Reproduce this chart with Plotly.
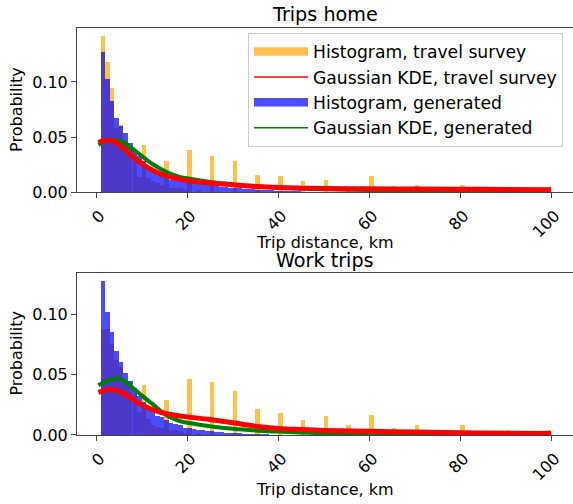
import plotly.graph_objects as go

# ---------------- data ----------------
# histogram bins are 1 km wide, bin k covers [k, k+1)
# Trips home — travel survey histogram (non-zero bins)
home_survey_km = [1, 2, 3, 4, 5, 6, 7, 8, 9, 10, 11, 12, 13, 14, 15, 16, 17, 18, 19, 20,
                  22, 25, 30, 35, 40, 45, 50, 55, 60, 65, 70, 75, 80, 85, 90, 99]
home_survey_p = [0.1414, 0.1185, 0.0948, 0.058, 0.0612, 0.045, 0.040, 0.034, 0.014, 0.043,
                 0.013, 0.0097, 0.008, 0.006, 0.0285, 0.004, 0.004, 0.004, 0.002, 0.0385,
                 0.002, 0.033, 0.0285, 0.0157, 0.0148, 0.0103, 0.0112, 0.0048, 0.0148, 0.0057,
                 0.0066, 0.002, 0.0066, 0.0015, 0.004, 0.0048]

# Trips home — generated histogram
home_gen_km = list(range(1, 46))
home_gen_p = [0.1275, 0.103, 0.0824, 0.0675, 0.0597, 0.0533, 0.045, 0.037, 0.033, 0.028,
              0.023, 0.020, 0.0187, 0.0166, 0.014, 0.011, 0.012, 0.0105, 0.0095, 0.009,
              0.008, 0.0075, 0.007, 0.0065, 0.006, 0.0055, 0.005, 0.0045, 0.004, 0.0038,
              0.0035, 0.003, 0.0028, 0.0025, 0.0022, 0.002, 0.0018, 0.0015, 0.0013, 0.0012,
              0.001, 0.0008, 0.0007, 0.0006, 0.0005]

# Work trips — travel survey histogram (non-zero bins)
work_survey_km = [1, 2, 3, 4, 5, 6, 7, 8, 9, 10, 11, 12, 13, 14, 15, 16, 17, 18, 19, 20,
                  22, 25, 30, 35, 40, 45, 50, 55, 60, 65, 70, 75, 80, 85, 90, 99]
work_survey_p = [0.088, 0.088, 0.0753, 0.062, 0.0566, 0.045, 0.040, 0.035, 0.019, 0.041,
                 0.0136, 0.0079, 0.007, 0.006, 0.0293, 0.004, 0.004, 0.003, 0.002, 0.0467,
                 0.002, 0.0442, 0.0368, 0.0211, 0.0186, 0.012, 0.0161, 0.0079, 0.0169, 0.0054,
                 0.0079, 0.002, 0.0079, 0.003, 0.0045, 0.0045]

# Work trips — generated histogram
work_gen_km = list(range(1, 39))
work_gen_p = [0.1277, 0.1015, 0.0855, 0.0698, 0.0607, 0.0517, 0.045, 0.039, 0.032, 0.027,
              0.022, 0.0197, 0.0155, 0.0153, 0.012, 0.0103, 0.009, 0.008, 0.0062, 0.006,
              0.005, 0.0045, 0.004, 0.0035, 0.003, 0.0027, 0.0023, 0.002, 0.0018, 0.0015,
              0.0013, 0.0011, 0.001, 0.0008, 0.0007, 0.0006, 0.0005, 0.0004]

# Gaussian KDE curves
kde_km = [0.5, 1, 2, 3, 4, 5, 6, 7, 8, 9, 10, 12, 14, 16, 18, 20, 25, 30, 35, 40, 45, 50,
          60, 70, 80, 90, 100]
home_kde_survey = [0.0450, 0.0458, 0.0468, 0.0470, 0.0460, 0.0432, 0.0400, 0.0362, 0.0325,
                   0.0290, 0.0260, 0.0208, 0.0168, 0.0140, 0.0120, 0.0106, 0.0082, 0.0066,
                   0.0051, 0.0041, 0.0036, 0.0033, 0.0030, 0.0028, 0.0026, 0.0024, 0.0022]
home_kde_gen = [0.0430, 0.0440, 0.0458, 0.0470, 0.0475, 0.0470, 0.0455, 0.0425, 0.0395,
                0.0362, 0.0330, 0.0265, 0.0215, 0.0172, 0.0142, 0.0125, 0.0092, 0.0070,
                0.0053, 0.0040, 0.0032, 0.0026, 0.0020, 0.0017, 0.0014, 0.0012, 0.0010]
work_kde_survey = [0.0352, 0.0358, 0.0370, 0.0376, 0.0374, 0.0362, 0.0345, 0.0322, 0.0298,
                   0.0272, 0.0250, 0.0215, 0.0190, 0.0172, 0.0160, 0.0150, 0.0128, 0.0101,
                   0.0073, 0.0054, 0.0045, 0.0038, 0.0030, 0.0024, 0.0018, 0.0015, 0.0012]
work_kde_gen = [0.0412, 0.0422, 0.0440, 0.0457, 0.0466, 0.0465, 0.0452, 0.0425, 0.0392,
                0.0360, 0.0328, 0.0268, 0.0205, 0.0150, 0.0120, 0.0101, 0.0073, 0.0051,
                0.0037, 0.0028, 0.0020, 0.0015, 0.0010, 0.0008, 0.0006, 0.0005, 0.0005]

titles = ["Trips home", "Work trips"]
x_label = "Trip distance, km"
y_label = "Probability"
x_ticks = [0, 20, 40, 60, 80, 100]
y_ticks = [0.0, 0.05, 0.10]
y_tick_text = ["0.00", "0.05", "0.10"]
legend_names = ["Histogram, travel survey", "Gaussian KDE, travel survey",
                "Histogram, generated", "Gaussian KDE, generated"]

# ---------------- styles ----------------
ORANGE = "rgba(255,165,0,0.7)"
BLUE = "rgba(0,0,255,0.7)"
ORANGE_SOLID = "rgb(255,192,77)"
BLUE_SOLID = "rgb(77,77,255)"
RED = "rgb(255,0,0)"
GREEN = "rgb(0,128,0)"
FONT = "DejaVu Sans"
AXCOL = "#444444"

fig = go.Figure()

panels = [
    (home_survey_km, home_survey_p, home_gen_km, home_gen_p, home_kde_survey, home_kde_gen, "x", "y"),
    (work_survey_km, work_survey_p, work_gen_km, work_gen_p, work_kde_survey, work_kde_gen, "x2", "y2"),
]

for s_km, s_p, g_km, g_p, k_s, k_g, xa, ya in panels:
    fig.add_trace(go.Bar(x=[k + 0.5 for k in s_km], y=s_p, width=0.99,
                         marker=dict(color=ORANGE, line=dict(width=0)),
                         showlegend=False, xaxis=xa, yaxis=ya, hoverinfo="skip"))
    fig.add_trace(go.Bar(x=[k + 0.5 for k in g_km], y=g_p, width=1.0,
                         marker=dict(color=BLUE, line=dict(width=0)),
                         showlegend=False, xaxis=xa, yaxis=ya, hoverinfo="skip"))
    fig.add_trace(go.Scatter(x=kde_km, y=k_g, mode="lines",
                             line=dict(color=GREEN, width=4, shape="spline"),
                             showlegend=False, xaxis=xa, yaxis=ya, hoverinfo="skip"))
    fig.add_trace(go.Scatter(x=kde_km, y=k_s, mode="lines",
                             line=dict(color=RED, width=5, shape="spline"),
                             showlegend=False, xaxis=xa, yaxis=ya, hoverinfo="skip"))

# legend-only entries
leg_styles = [
    dict(line=dict(color=ORANGE_SOLID, width=5), fill="toself", fillcolor=ORANGE_SOLID),
    dict(line=dict(color=RED, width=1.5)),
    dict(line=dict(color=BLUE_SOLID, width=5), fill="toself", fillcolor=BLUE_SOLID),
    dict(line=dict(color=GREEN, width=1.5)),
]
for i, (name, st) in enumerate(zip(legend_names, leg_styles)):
    fig.add_trace(go.Scatter(x=[None], y=[None], mode="lines", name=name,
                             legendgroup=f"g{i}", showlegend=True, xaxis="x", yaxis="y", **st))

W, H = 573, 504
L, R, T, B = 77, 0, 28, 68.5
plot_h = H - T - B
plot_w = W - L - R
top_dom = [(435.5 - 192.3) / plot_h, 1.0]
bot_dom = [0.0, (435.5 - 273.3) / plot_h]

axis_common = dict(showline=True, linecolor=AXCOL, linewidth=1, mirror=True,
                   ticks="outside", ticklen=5, tickwidth=1, tickcolor=AXCOL,
                   showgrid=False, zeroline=False,
                   tickfont=dict(family=FONT, size=16, color="black"))

xcommon = dict(axis_common, range=[-4.2, 104.8], tickvals=x_ticks,
               ticktext=[str(v) for v in x_ticks], tickangle=-45,
               ticklabelshift=4, ticklabelstandoff=2)
fig.update_layout(
    width=W, height=H,
    margin=dict(l=L, r=R, t=T, b=B, pad=0),
    paper_bgcolor="white", plot_bgcolor="white",
    barmode="overlay", bargap=0,
    font=dict(family=FONT, size=16, color="black"),
    xaxis=dict(xcommon, domain=[0, 1], anchor="y"),
    yaxis=dict(axis_common, domain=top_dom, range=[0, 0.149], tickvals=y_ticks,
               ticktext=y_tick_text, anchor="x"),
    xaxis2=dict(xcommon, domain=[0, 1], anchor="y2"),
    yaxis2=dict(axis_common, domain=bot_dom, range=[0, 0.134], tickvals=y_ticks,
                ticktext=y_tick_text, anchor="x2"),
    legend=dict(x=(248 - L) / plot_w, y=(435.5 - 33) / plot_h, xanchor="left", yanchor="top",
                bgcolor="rgba(255,255,255,0.8)", bordercolor="#cccccc", borderwidth=1,
                font=dict(family=FONT, size=17.2, color="black"),
                itemwidth=54, tracegroupgap=4, traceorder="normal"),
    showlegend=True,
)

ann = []
for title, yc_px in zip(titles, [14, 261]):
    ann.append(dict(text=title, x=0.5, y=(435.5 - yc_px) / plot_h, xref="paper", yref="paper",
                    xanchor="center", yanchor="middle", showarrow=False,
                    font=dict(family=FONT, size=19.2, color="black")))
for yc_px in [243, 490]:
    ann.append(dict(text=x_label, x=0.5, y=(435.5 - yc_px) / plot_h, xref="paper", yref="paper",
                    xanchor="center", yanchor="middle", showarrow=False,
                    font=dict(family=FONT, size=16, color="black")))
for yc_px in [110, 354]:
    ann.append(dict(text=y_label, x=(17 - L) / plot_w, y=(435.5 - yc_px) / plot_h, xref="paper",
                    yref="paper", xanchor="center", yanchor="middle", showarrow=False,
                    textangle=-90, font=dict(family=FONT, size=16, color="black")))
fig.update_layout(annotations=ann)

fig.write_html("out.html", config={"displayModeBar": False},
               post_script="document.body.style.margin='0';document.body.style.overflow='hidden';")
